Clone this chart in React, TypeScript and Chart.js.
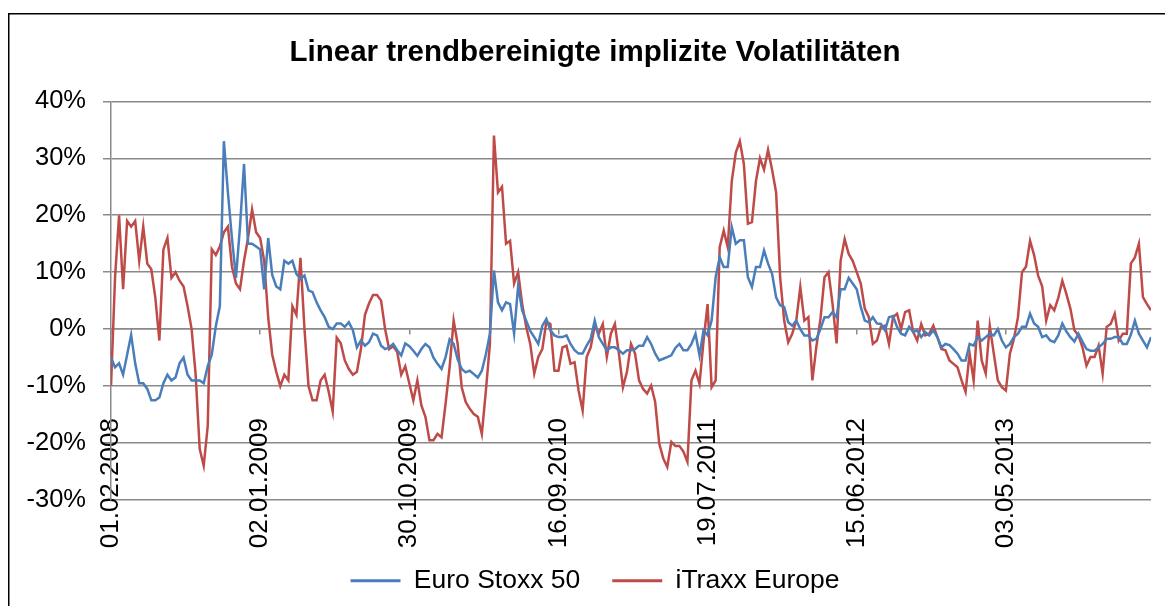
import React, { useEffect, useRef } from 'react';
import { Chart, registerables } from 'chart.js';

Chart.register(...registerables);

const TITLE = 'Linear trendbereinigte implizite Volatilitäten';
const SERIES_NAMES = ['Euro Stoxx 50', 'iTraxx Europe'];
const SERIES_COLORS = ['#4a7ebb', '#be4b48'];

// category tick labels and the sample index where each one sits
const DATE_LABELS = ['01.02.2008', '02.01.2009', '30.10.2009', '16.09.2010', '19.07.2011', '15.06.2012', '03.05.2013'];
const DATE_LABEL_POS = [0, 37, 74, 111, 148, 185, 222];

// values in %, one sample every ~4 trading-days-equivalent
const EURO_STOXX_50 = [
  -5, -6.7, -6, -8, -4.5, -1, -6, -9.5, -9.5, -10.5,
  -12.5, -12.5, -12, -9.5, -8, -9, -8.5, -6, -5, -8,
  -9, -9, -9, -9.5, -6.5, -4.5, 0.5, 4, 33, 24,
  16, 9, 18, 29, 15, 15, 14.5, 14, 7, 16,
  9.5, 7.5, 7, 12, 11.5, 12, 9.7, 8.8, 9.4, 6.8,
  6.5, 4.7, 3.3, 2.1, 0.4, 0, 1, 1, 0.4, 1.2,
  -0.2, -3.2, -2, -2.9, -2.3, -0.8, -1.1, -2.9, -3.5, -3.2,
  -2.6, -3.7, -4.6, -2.5, -3, -3.8, -4.7, -3.5, -2.6, -3.2,
  -5, -6.1, -7, -4.9, -1.8, -2.6, -5.3, -7, -7.6, -7.3,
  -7.9, -8.5, -7.3, -4.4, -0.8, 10.3, 4.7, 3.3, 4.7, 4.4,
  -0.8, 7.6, 3.3, 1.5, -0.3, -1.4, -2.6, 0.6, 1.8, -0.2,
  -1.1, -1.4, -1.4, -1.1, -2.6, -3.7, -4.3, -4.3, -2.9, -1.7,
  1.5, -1.4, -2.6, -3.7, -3.2, -3.2, -3.7, -4.3, -3.7, -3.7,
  -3.5, -2.9, -2.9, -1.4, -2.6, -4.3, -5.5, -5.2, -4.9, -4.6,
  -3.3, -2.6, -3.7, -3.7, -2.6, -0.8, -4.6, -0.2, -1.1, 1.5,
  9.1, 12.6, 10.9, 10.9, 17.9, 15, 15.6, 15.6, 9.1, 7.4,
  10.9, 10.9, 13.8, 11.5, 9.7, 5.6, 4.2, 3.9, 1.2, 0.6,
  1.5, 0, -1.1, -1.1, -2, -1.7, 0, 2.1, 2.1, 3,
  2.1, 7, 7, 9, 8, 7, 3.9, 1.5, 1.2, 2.1,
  1, 0.9, -0.2, 2.1, 2.3, 0.4, -0.8, -1.1, 0.4, -0.5,
  -0.2, -1.4, -0.5, -1.1, -0.2, -1.4, -3.2, -2.6, -2.8, -3.5,
  -4.3, -5.5, -5.5, -2.6, -2.9, -1.4, -2, -1.4, -0.8, -1.1,
  0, -2, -3.2, -2.6, -1.4, -0.8, 0.4, 0.4, 2.7, 1,
  0.4, -1.4, -1.1, -2, -2.3, -1.1, 1, -0.4, -1.4, -2.2,
  -0.8, -2.2, -3.5, -3.8, -3.8, -3.2, -2.6, -1.7, -1.7, -1.4,
  -1.4, -2.6, -2.6, -1, 1.5, -0.8, -2, -3.2, -1.4,
];

const ITRAXX_EUROPE = [
  -10, 9, 20, 7, 19, 18, 19, 12, 18, 11.5,
  10.5, 5.5, -2, 14, 16, 9, 10, 8.5, 7.5, 4,
  0, -8, -21, -24, -17, 14, 13, 14.5, 17, 18,
  11, 8, 7, 12, 16, 21, 17, 16, 12, 2,
  -4.5, -7.5, -10, -8, -9, 4, 2.5, 12.5, 0, -10,
  -12.5, -12.5, -9, -8, -11, -14.5, -1.5, -2.5, -5.5, -7,
  -8, -7.5, -3.5, 2.5, 4.5, 6, 6, 5, 0, -3.5,
  -3, -4, -8, -6.5, -9.5, -12.5, -9, -13.4, -15.4, -19.5,
  -19.5, -18.4, -19, -13.1, -6.7, 1.5, -2.6, -10.2, -12.8, -14,
  -14.9, -15.4, -18.4, -10.8, -2.6, 34, 24, 25, 15, 15.5,
  8, 10, 4.4, 0.4, -2.6, -7.8, -4.9, -3.5, 1.3, 0.9,
  -7.3, -7.3, -3.2, -2.9, -6.1, -5.8, -10.8, -14.3, -4.9, -3.2,
  0.6, -0.8, 0.9, -4.9, -0.8, 0.9, -4.3, -10.2, -7.5, -2.6,
  -4.3, -9, -10.5, -11.3, -9.9, -12.8, -20.1, -22.7, -24.2, -19.8,
  -20.5, -20.5, -21.5, -23.3, -9, -7.3, -9.6, -2, 4.4, -10.2,
  -9, 14.4, 17.3, 14.4, 26, 31, 33, 29, 18.5, 18.8,
  26, 30, 28, 31.5, 28, 24, 9.1, 1.5, -2.3, -0.8,
  1.5, 7.4, 1.5, 2.1, -9, -3, 1.8, 9.1, 10, 4.4,
  -2.5, 12, 15.8, 13.2, 12, 10, 8, 3.6, 2.1, -2.6,
  -2, 0.4, 0.6, -2.6, 2.1, 2.7, 0, 3, 3.3, -0.5,
  -2, 0.9, -1.1, -0.8, 0.6, -1.4, -3.5, -3.7, -5.5, -6.1,
  -6.7, -9, -11, -4.3, -9, 1.5, -5.5, -7.8, 0.6, -4.3,
  -9, -10.2, -10.8, -4.3, -1.7, 2.1, 10, 11, 15.5, 13,
  9.4, 7.5, 1.5, 4.2, 3.3, 5.5, 8.5, 6.2, 3.6, -0.2,
  -1.1, -3.2, -6.4, -4.9, -4.9, -2.9, -7.8, 0.4, 0.9, 2.7,
  -2, -0.8, -0.8, 11.5, 12.6, 15, 5.6, 4.4, 3.3,
];

const Y_MIN = -30;
const Y_MAX = 40;
const Y_STEP = 10;

const FONT = "'Liberation Sans', Arial, sans-serif";
const GRID = '#8a8a8a';

const framePlugin = {
  id: 'frame',
  afterLayout(chart: any) {
    // the title and legend sit slightly right of the canvas centre in the original
    const dx = 7.5;
    for (const box of [chart.titleBlock, chart.legend]) {
      if (box) {
        box.left += dx;
        box.right += dx;
      }
    }
  },
  afterDraw(chart: any) {
    const { ctx, width, height } = chart;
    ctx.save();
    ctx.strokeStyle = '#000';
    ctx.lineWidth = 1.5;
    ctx.beginPath();
    ctx.moveTo(0.75, height);
    ctx.lineTo(0.75, 5.75);
    ctx.lineTo(width, 5.75);
    ctx.stroke();
    ctx.restore();
  },
};

export default function App() {
  const ref = useRef<HTMLCanvasElement | null>(null);

  useEffect(() => {
    if (!ref.current) return;
    const chart = new Chart(ref.current, {
      type: 'line',
      data: {
        labels: EURO_STOXX_50.map((_, i) => i),
        datasets: [
          {
            label: SERIES_NAMES[0],
            data: EURO_STOXX_50,
            borderColor: SERIES_COLORS[0],
            backgroundColor: SERIES_COLORS[0],
            borderWidth: 2.5,
            pointRadius: 0,
            tension: 0,
            xAxisID: 'x',
            yAxisID: 'y',
          },
          {
            label: SERIES_NAMES[1],
            data: ITRAXX_EUROPE,
            borderColor: SERIES_COLORS[1],
            backgroundColor: SERIES_COLORS[1],
            borderWidth: 2.5,
            pointRadius: 0,
            tension: 0,
            xAxisID: 'x',
            yAxisID: 'y',
          },
        ],
      },
      options: {
        animation: false,
        responsive: false,
        layout: { padding: { left: 16, right: 14, top: 0, bottom: 2 } },
        plugins: {
          title: {
            display: true,
            text: TITLE,
            color: '#000',
            font: { family: FONT, size: 29.5, weight: 'bold' },
            padding: { top: 27.5, bottom: 30.4 },
          },
          legend: {
            position: 'bottom',
            labels: {
              color: '#000',
              font: { family: FONT, size: 26.5 },
              boxWidth: 50,
              boxHeight: 3,
              padding: 32,
              generateLabels: (c: any) =>
                (Chart.defaults.plugins.legend.labels as any)
                  .generateLabels(c)
                  .map((it: any) => ({ ...it, fillStyle: it.strokeStyle, lineWidth: 0 })),
            },
          },
          tooltip: { enabled: false },
        },
        scales: {
          x: {
            type: 'linear',
            position: { y: 0 } as any,
            min: 0,
            max: EURO_STOXX_50.length - 1,
            afterBuildTicks: (scale: any) => {
              scale.ticks = DATE_LABEL_POS.map((v) => ({ value: v }));
            },
            ticks: {
              autoSkip: false,
              minRotation: 90,
              maxRotation: 90,
              padding: 84,
              color: '#000',
              font: { family: FONT, size: 26 },
              callback: (v: any) => {
                const k = DATE_LABEL_POS.indexOf(Number(v));
                return k >= 0 ? DATE_LABELS[k] : '';
              },
            },
            grid: {
              drawOnChartArea: false,
              drawTicks: true,
              tickLength: 5,
              color: GRID,
              lineWidth: 1.5,
            },
            border: { display: true, color: GRID, width: 1.5 },
          },
          xPad: {
            type: 'linear',
            axis: 'x',
            position: 'bottom',
            ticks: { display: false },
            grid: { display: false },
            border: { display: false },
            afterFit: (s: any) => {
              s.height = 35.5;
            },
          } as any,
          y: {
            type: 'linear',
            min: Y_MIN,
            max: Y_MAX,
            afterFit: (s: any) => {
              s.width = 87;
            },
            ticks: {
              stepSize: Y_STEP,
              padding: 17,
              color: '#000',
              font: { family: FONT, size: 25.5 },
              callback: (v: any) => `${v}%`,
            },
            grid: {
              color: GRID,
              lineWidth: 1.5,
              tickLength: 8,
              drawTicks: true,
            },
            border: { display: true, color: GRID, width: 1.5 },
          },
        },
      },
      plugins: [framePlugin],
    } as any);
    return () => chart.destroy();
  }, []);

  return (
    <canvas
      ref={ref}
      width={1157}
      height={598}
      style={{ display: 'block', width: 1157, height: 598 }}
    />
  );
}
